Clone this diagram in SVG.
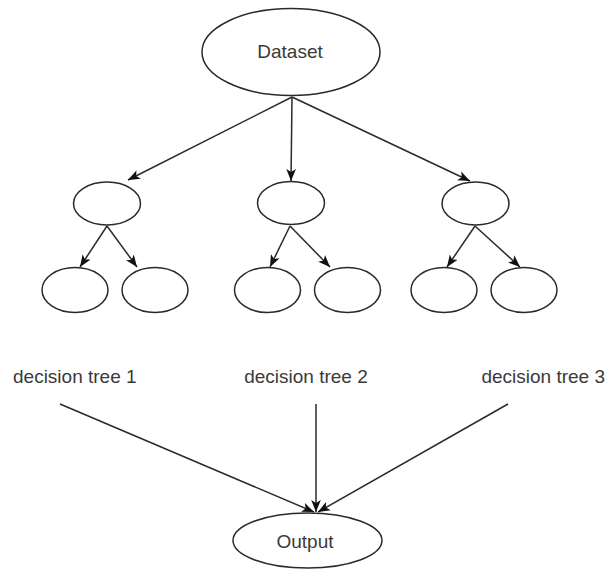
<svg xmlns="http://www.w3.org/2000/svg" width="608" height="569" viewBox="0 0 608 569">
<style>
.node{fill:#fff;stroke:#2a2a2a;stroke-width:1.5}
.lbl{font-family:"Liberation Sans",Arial,sans-serif;font-size:19px;fill:#3a3a3a}
.edge{stroke:#2a2a2a;stroke-width:1.5;fill:none;marker-end:url(#arr)}
</style>
<defs>
<marker id="arr" viewBox="0 0 10 8" refX="10" refY="4" markerWidth="12" markerHeight="10" markerUnits="userSpaceOnUse" orient="auto">
<path d="M0,0 L10,4 L0,8 L2.5,4 Z" fill="#111"/>
</marker>
</defs>
<rect width="608" height="569" fill="#fff"/>
<g id="connectors">
<line class="edge" x1="292" y1="97" x2="128" y2="180"/>
<line class="edge" x1="292" y1="97" x2="291" y2="181"/>
<line class="edge" x1="292" y1="97" x2="470" y2="181"/>
<line class="edge" x1="107" y1="226" x2="80" y2="267"/>
<line class="edge" x1="107" y1="226" x2="137" y2="267"/>
<line class="edge" x1="290" y1="226" x2="270" y2="267"/>
<line class="edge" x1="290" y1="226" x2="330" y2="267"/>
<line class="edge" x1="475" y1="226" x2="447" y2="267"/>
<line class="edge" x1="475" y1="226" x2="520" y2="267"/>
<line class="edge" x1="60" y1="404" x2="314" y2="512"/>
<line class="edge" x1="316" y1="404" x2="316" y2="512"/>
<line class="edge" x1="508" y1="404" x2="318" y2="512"/>
</g>
<g id="dataset"><ellipse class="node" cx="291" cy="52" rx="89" ry="43.5"/><text class="lbl" x="290" y="58" text-anchor="middle">Dataset</text></g>
<g id="t1"><ellipse class="node" cx="107" cy="203.5" rx="33.5" ry="21.5"/></g>
<g id="t2"><ellipse class="node" cx="291" cy="203" rx="33.5" ry="21.5"/></g>
<g id="t3"><ellipse class="node" cx="475.5" cy="203.5" rx="33.5" ry="21.5"/></g>
<g id="t1a"><ellipse class="node" cx="75" cy="290" rx="33" ry="22.5"/></g>
<g id="t1b"><ellipse class="node" cx="155" cy="290" rx="33" ry="22.5"/></g>
<g id="t2a"><ellipse class="node" cx="267.5" cy="290" rx="33" ry="22.5"/></g>
<g id="t2b"><ellipse class="node" cx="347.5" cy="290" rx="33" ry="22.5"/></g>
<g id="t3a"><ellipse class="node" cx="444" cy="290" rx="33" ry="22.5"/></g>
<g id="t3b"><ellipse class="node" cx="524" cy="290" rx="33" ry="22.5"/></g>
<g id="label1"><text class="lbl" x="13" y="383">decision tree 1</text></g>
<g id="label2"><text class="lbl" x="306" y="383" text-anchor="middle">decision tree 2</text></g>
<g id="label3"><text class="lbl" x="605" y="383" text-anchor="end">decision tree 3</text></g>
<g id="output"><ellipse class="node" cx="307.5" cy="540.5" rx="74.5" ry="27.5"/><text class="lbl" x="305" y="548" text-anchor="middle">Output</text></g>
</svg>
